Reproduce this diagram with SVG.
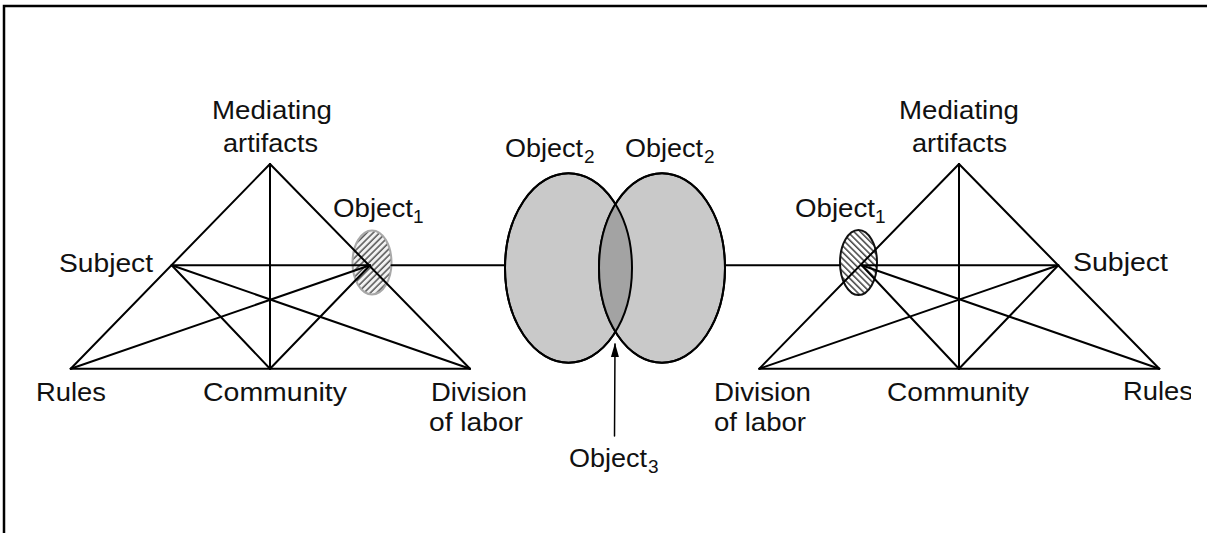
<svg xmlns="http://www.w3.org/2000/svg" width="1207" height="533" viewBox="0 0 1207 533">
  <style>
    .ln { stroke: #000; stroke-width: 2; fill: none; stroke-linecap: round; }
    .t { font-family: "Liberation Sans", Arial, sans-serif; font-size: 26px; fill: #111; }
    .s { font-family: "Liberation Sans", Arial, sans-serif; font-size: 19px; fill: #111; }
    .big { fill: #c9c9c9; stroke: #000; stroke-width: 2; }
  </style>
  <defs>
    <pattern id="hatchL" patternUnits="userSpaceOnUse" width="4.5" height="4.5" patternTransform="rotate(-45)">
      <rect width="4.5" height="4.5" fill="#f2f2f2"/>
      <line x1="0" y1="1" x2="4.5" y2="1" stroke="#3a3a3a" stroke-width="1.3"/>
    </pattern>
    <pattern id="hatchR" patternUnits="userSpaceOnUse" width="4.5" height="4.5" patternTransform="rotate(45)">
      <rect width="4.5" height="4.5" fill="#fff"/>
      <line x1="0" y1="1" x2="4.5" y2="1" stroke="#222" stroke-width="1.3"/>
    </pattern>
    <clipPath id="clipBigL">
      <ellipse cx="568.5" cy="268" rx="63.5" ry="94.7"/>
    </clipPath>
    <clipPath id="clipEdge">
      <rect x="0" y="0" width="1191" height="533"/>
    </clipPath>
    <marker id="arrow" markerWidth="14" markerHeight="8" refX="13" refY="4" orient="auto" markerUnits="userSpaceOnUse">
      <path d="M0,0 L14,4 L0,8 Z" fill="#000"/>
    </marker>
  </defs>

  <rect width="1207" height="533" fill="#fff"/>
  <path d="M4,540 V6 H1215" fill="none" stroke="#000" stroke-width="2.5"/>

  <!-- Object ellipses -->
  <g id="object1-left">
    <ellipse cx="372" cy="262.5" rx="19.5" ry="32" fill="url(#hatchL)" stroke="#a8a8a8" stroke-width="2"/>
  </g>
  <g id="object1-right">
    <ellipse cx="858.5" cy="262.5" rx="18.5" ry="32.5" fill="url(#hatchR)" stroke="#111" stroke-width="2"/>
  </g>
  <g id="object2-left">
    <ellipse class="big" cx="568.5" cy="268" rx="63.5" ry="94.7"/>
  </g>
  <g id="object2-right">
    <ellipse class="big" cx="662" cy="268" rx="63" ry="94.7"/>
  </g>
  <g id="object3">
    <ellipse cx="662" cy="268" rx="63" ry="94.7" fill="#a3a3a3" clip-path="url(#clipBigL)"/>
    <ellipse cx="568.5" cy="268" rx="63.5" ry="94.7" fill="none" stroke="#000" stroke-width="2"/>
    <ellipse cx="662" cy="268" rx="63" ry="94.7" fill="none" stroke="#000" stroke-width="2"/>
  </g>

  <!-- Connectors -->
  <g id="connectors" class="ln">
    <!-- left activity system -->
    <line x1="270" y1="164" x2="70.7" y2="368.7"/>
    <line x1="270" y1="164" x2="470" y2="368.7"/>
    <line x1="70.7" y1="368.7" x2="470" y2="368.7"/>
    <line x1="270" y1="164" x2="270" y2="368.7"/>
    <line x1="171.7" y1="265.3" x2="370" y2="265.3"/>
    <line x1="171.7" y1="265.3" x2="270" y2="368.7"/>
    <line x1="171.7" y1="265.3" x2="470" y2="368.7"/>
    <line x1="370" y1="265.3" x2="270" y2="368.7"/>
    <line x1="370" y1="265.3" x2="70.7" y2="368.7"/>
    <line x1="391.5" y1="265.3" x2="505" y2="265.3"/>
    <!-- right activity system -->
    <line x1="959" y1="164" x2="759.3" y2="368.7"/>
    <line x1="959" y1="164" x2="1159.3" y2="368.7"/>
    <line x1="759.3" y1="368.7" x2="1159.3" y2="368.7"/>
    <line x1="959" y1="164" x2="959" y2="368.7"/>
    <line x1="861.7" y1="265.3" x2="1058.3" y2="265.3"/>
    <line x1="861.7" y1="265.3" x2="959" y2="368.7"/>
    <line x1="861.7" y1="265.3" x2="1159.3" y2="368.7"/>
    <line x1="1058.3" y1="265.3" x2="959" y2="368.7"/>
    <line x1="1058.3" y1="265.3" x2="759.3" y2="368.7"/>
    <line x1="725" y1="265.3" x2="840" y2="265.3"/>
    <!-- pointer to Object3 -->
    <line x1="614.5" y1="436" x2="615" y2="344" stroke-width="1.5" marker-end="url(#arrow)"/>
  </g>

  <!-- Labels left -->
  <g id="label-mediating-left">
    <text class="t" x="212" y="119" textLength="120" lengthAdjust="spacingAndGlyphs">Mediating</text>
    <text class="t" x="223" y="152" textLength="95" lengthAdjust="spacingAndGlyphs">artifacts</text>
  </g>
  <g id="label-subject-left">
    <text class="t" x="59" y="272" textLength="94" lengthAdjust="spacingAndGlyphs">Subject</text>
  </g>
  <g id="label-rules-left">
    <text class="t" x="36" y="401" textLength="70" lengthAdjust="spacingAndGlyphs">Rules</text>
  </g>
  <g id="label-community-left">
    <text class="t" x="203" y="401" textLength="144" lengthAdjust="spacingAndGlyphs">Community</text>
  </g>
  <g id="label-division-left">
    <text class="t" x="431" y="401" textLength="96" lengthAdjust="spacingAndGlyphs">Division</text>
    <text class="t" x="429" y="431" textLength="94" lengthAdjust="spacingAndGlyphs">of labor</text>
  </g>
  <g id="label-object1-left">
    <text class="t" x="333" y="217" textLength="80" lengthAdjust="spacingAndGlyphs">Object</text>
    <text class="s" x="413" y="223">1</text>
  </g>

  <!-- Labels middle -->
  <g id="label-object2-left">
    <text class="t" x="505" y="157" textLength="78" lengthAdjust="spacingAndGlyphs">Object</text>
    <text class="s" x="584" y="163">2</text>
  </g>
  <g id="label-object2-right">
    <text class="t" x="625" y="157" textLength="78" lengthAdjust="spacingAndGlyphs">Object</text>
    <text class="s" x="704" y="163">2</text>
  </g>
  <g id="label-object3">
    <text class="t" x="569" y="467" textLength="78" lengthAdjust="spacingAndGlyphs">Object</text>
    <text class="s" x="648" y="473">3</text>
  </g>

  <!-- Labels right -->
  <g id="label-mediating-right">
    <text class="t" x="899" y="119" textLength="120" lengthAdjust="spacingAndGlyphs">Mediating</text>
    <text class="t" x="912" y="152" textLength="95" lengthAdjust="spacingAndGlyphs">artifacts</text>
  </g>
  <g id="label-object1-right">
    <text class="t" x="795" y="217" textLength="80" lengthAdjust="spacingAndGlyphs">Object</text>
    <text class="s" x="875" y="223">1</text>
  </g>
  <g id="label-subject-right">
    <text class="t" x="1073" y="271" textLength="95" lengthAdjust="spacingAndGlyphs">Subject</text>
  </g>
  <g id="label-division-right">
    <text class="t" x="714" y="401" textLength="97" lengthAdjust="spacingAndGlyphs">Division</text>
    <text class="t" x="714" y="431" textLength="92" lengthAdjust="spacingAndGlyphs">of labor</text>
  </g>
  <g id="label-community-right">
    <text class="t" x="887" y="401" textLength="142" lengthAdjust="spacingAndGlyphs">Community</text>
  </g>
  <g id="label-rules-right" clip-path="url(#clipEdge)">
    <text class="t" x="1123" y="400" textLength="70" lengthAdjust="spacingAndGlyphs">Rules</text>
  </g>
</svg>
